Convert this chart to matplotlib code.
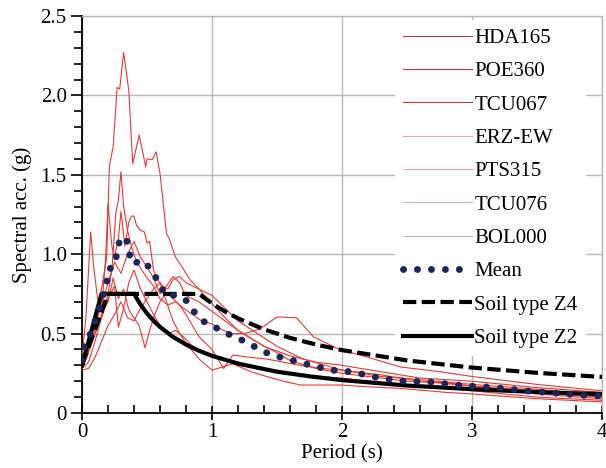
import numpy as np
import matplotlib
matplotlib.use("Agg")
from matplotlib import pyplot as plt
from matplotlib.ticker import MultipleLocator, FixedFormatter, FixedLocator

plt.rcParams['font.family'] = ['Liberation Serif', 'DejaVu Serif']

# record spectra (period s, spectral acc. g)
hda165_t = [0.0, 0.05, 0.10, 0.15, 0.19, 0.21, 0.24, 0.27, 0.29, 0.32, 0.36, 0.39, 0.44, 0.49, 0.50, 0.54, 0.57, 0.60, 0.65, 0.67, 0.72, 0.77, 0.83, 0.90, 1.0, 1.1, 1.2, 1.3, 1.4, 1.6, 1.8, 2.0, 2.3, 2.6, 3.0, 3.5, 4.0]
hda165_a = [0.32, 0.45, 0.62, 0.78, 0.98, 1.55, 1.68, 2.05, 2.04, 2.27, 2.03, 1.57, 1.75, 1.55, 1.60, 1.595, 1.645, 1.51, 1.13, 1.10, 0.98, 0.92, 0.84, 0.78, 0.69, 0.60, 0.52, 0.47, 0.42, 0.36, 0.32, 0.30, 0.26, 0.22, 0.20, 0.16, 0.13]

poe360_t = [0.0, 0.04, 0.08, 0.12, 0.16, 0.20, 0.23, 0.26, 0.28, 0.30, 0.32, 0.35, 0.38, 0.42, 0.46, 0.50, 0.55, 0.60, 0.66, 0.72, 0.78, 0.85, 0.92, 1.0, 1.09, 1.16, 1.25, 1.37, 1.5, 1.65, 1.78, 1.98, 2.14, 2.45, 2.75, 3.0, 3.5, 4.0]
poe360_a = [0.30, 0.36, 0.48, 0.55, 0.62, 0.75, 0.90, 1.26, 1.34, 1.52, 1.30, 1.15, 1.05, 0.95, 0.90, 0.85, 0.80, 0.72, 0.68, 0.70, 0.66, 0.62, 0.58, 0.56, 0.52, 0.50, 0.50, 0.53, 0.605, 0.60, 0.48, 0.40, 0.365, 0.29, 0.26, 0.23, 0.18, 0.14]

tcu067_t = [0.0, 0.03, 0.067, 0.09, 0.12, 0.15, 0.18, 0.20, 0.23, 0.25, 0.28, 0.30, 0.33, 0.36, 0.38, 0.40, 0.42, 0.45, 0.48, 0.50, 0.52, 0.55, 0.58, 0.62, 0.66, 0.70, 0.75, 0.80, 0.85, 0.90, 1.0, 1.1, 1.2, 1.35, 1.5, 1.7, 2.0, 2.3, 2.6, 3.0, 3.5, 4.0]
tcu067_a = [0.35, 0.60, 1.14, 0.92, 0.72, 0.65, 0.95, 1.32, 1.05, 0.98, 1.10, 1.27, 1.05, 1.20, 1.24, 1.24, 1.18, 1.15, 1.14, 1.07, 1.08, 0.90, 0.84, 0.80, 0.78, 0.84, 0.86, 0.82, 0.80, 0.78, 0.74, 0.66, 0.58, 0.50, 0.42, 0.34, 0.27, 0.23, 0.21, 0.18, 0.15, 0.11]

erz_t = [0.0, 0.05, 0.1, 0.15, 0.2, 0.25, 0.3, 0.35, 0.4, 0.45, 0.5, 0.55, 0.6, 0.65, 0.7, 0.75, 0.8, 0.9, 1.0, 1.1, 1.2, 1.3, 1.4, 1.5, 1.6, 1.8, 2.0, 2.2, 2.5, 2.8, 3.0, 3.3, 3.6, 4.0]
erz_a = [0.33, 0.42, 0.55, 0.68, 0.82, 0.95, 0.88, 1.0, 1.08, 0.98, 0.92, 0.85, 0.75, 0.80, 0.86, 0.82, 0.74, 0.70, 0.64, 0.58, 0.52, 0.47, 0.42, 0.38, 0.33, 0.28, 0.25, 0.23, 0.20, 0.19, 0.17, 0.15, 0.12, 0.10]

pts315_t = [0.0, 0.05, 0.1, 0.15, 0.2, 0.24, 0.28, 0.32, 0.36, 0.40, 0.44, 0.485, 0.52, 0.56, 0.6, 0.65, 0.7, 0.75, 0.8, 0.85, 0.9, 1.0, 1.06, 1.09, 1.16, 1.3, 1.42, 1.55, 1.68, 1.85, 2.0, 2.3, 2.6, 3.0, 3.5, 4.0]
pts315_a = [0.30, 0.38, 0.50, 0.62, 0.70, 0.85, 0.72, 0.78, 0.65, 0.60, 0.55, 0.41, 0.52, 0.62, 0.70, 0.76, 0.72, 0.68, 0.62, 0.55, 0.48, 0.40, 0.32, 0.28, 0.365, 0.35, 0.34, 0.32, 0.30, 0.28, 0.27, 0.24, 0.20, 0.17, 0.12, 0.09]

tcu076_t = [0.0, 0.05, 0.1, 0.15, 0.2, 0.25, 0.28, 0.32, 0.36, 0.40, 0.45, 0.5, 0.55, 0.6, 0.66, 0.72, 0.78, 0.85, 0.9, 1.0, 1.1, 1.2, 1.3, 1.4, 1.5, 1.6, 1.8, 2.0, 2.2, 2.5, 2.8, 3.0, 3.5, 4.0]
tcu076_a = [0.28, 0.32, 0.45, 0.60, 0.72, 0.80, 0.54, 0.66, 0.82, 0.90, 0.78, 0.70, 0.62, 0.55, 0.50, 0.52, 0.48, 0.42, 0.40, 0.365, 0.34, 0.32, 0.30, 0.28, 0.26, 0.25, 0.23, 0.22, 0.20, 0.18, 0.16, 0.14, 0.10, 0.08]

bol000_t = [0.0, 0.05, 0.1, 0.15, 0.2, 0.25, 0.3, 0.35, 0.4, 0.45, 0.5, 0.55, 0.6, 0.65, 0.7, 0.75, 0.8, 0.9, 1.0, 1.16, 1.3, 1.42, 1.55, 1.68, 1.85, 2.0, 2.2, 2.45, 2.8, 3.0, 3.5, 4.0]
bol000_a = [0.27, 0.28, 0.35, 0.45, 0.55, 0.62, 0.70, 0.60, 0.58, 0.66, 0.72, 0.78, 0.82, 0.70, 0.58, 0.50, 0.44, 0.34, 0.27, 0.31, 0.26, 0.23, 0.20, 0.176, 0.176, 0.176, 0.165, 0.155, 0.13, 0.12, 0.09, 0.07]

mean_t = [0.0, 0.015, 0.06, 0.12, 0.19, 0.20, 0.25, 0.27, 0.29, 0.34, 0.36, 0.385, 0.47, 0.54, 0.59, 0.64, 0.73, 0.80, 0.86, 0.94, 1.03, 1.125, 1.22, 1.32, 1.41, 1.515, 1.62, 1.715, 1.82, 1.92, 2.03, 2.13, 2.24, 2.34, 2.45, 2.55, 2.66, 2.77, 2.87, 2.97, 3.08, 3.19, 3.29, 3.4, 3.5, 3.6, 3.72, 3.82, 3.93, 4.0]
mean_a = [0.33, 0.417, 0.49, 0.62, 0.82, 0.90, 0.93, 1.01, 1.09, 1.105, 1.02, 0.94, 0.96, 0.895, 0.82, 0.745, 0.74, 0.71, 0.64, 0.575, 0.537, 0.497, 0.463, 0.421, 0.382, 0.354, 0.331, 0.31, 0.289, 0.27, 0.263, 0.25, 0.228, 0.215, 0.202, 0.199, 0.197, 0.187, 0.176, 0.17, 0.166, 0.159, 0.151, 0.14, 0.134, 0.128, 0.12, 0.113, 0.109, 0.107]

z4_t = [0.0, 0.2, 0.9, 1.0, 1.1, 1.2, 1.4, 1.6, 1.8, 2.0, 2.5, 3.0, 3.5, 4.0]
z4_a = [0.30, 0.75, 0.75, 0.690, 0.639, 0.596, 0.527, 0.473, 0.431, 0.396, 0.331, 0.286, 0.253, 0.227]

z2_t = [0.0, 0.15, 0.40, 0.45, 0.5, 0.55, 0.6, 0.7, 0.8, 0.9, 1.0, 1.2, 1.5, 1.75, 2.0, 2.5, 3.0, 3.5, 4.0]
z2_a = [0.30, 0.75, 0.75, 0.683, 0.627, 0.581, 0.542, 0.479, 0.431, 0.392, 0.360, 0.311, 0.260, 0.231, 0.207, 0.173, 0.150, 0.132, 0.119]

records = [("HDA165", hda165_t, hda165_a), ("POE360", poe360_t, poe360_a),
           ("TCU067", tcu067_t, tcu067_a), ("ERZ-EW", erz_t, erz_a),
           ("PTS315", pts315_t, pts315_a), ("TCU076", tcu076_t, tcu076_a),
           ("BOL000", bol000_t, bol000_a)]
handle_colors = ['#b03a3a', '#b03a3a', '#b03a3a', '#e3aaaa', '#e3aaaa', '#e3aaaa', '#e3aaaa']

fig = plt.figure(figsize=(6.06, 4.68), dpi=100)
ax = fig.add_axes([82/606, 1 - 413/468, 520/606, 397/468])

for name, t, a in records:
    ax.plot(t, a, color='#e53935', lw=0.8, label=name, zorder=3)

ax.plot(mean_t, mean_a, color='#1b2659', lw=5, linestyle=(0, (0.01, 2.0)),
        dash_capstyle='round', label='Mean', zorder=5)
ax.plot(z4_t, z4_a, color='black', lw=3, linestyle=(0, (3.2, 1.3)), label='Soil type Z4', zorder=4)
ax.plot(z2_t, z2_a, color='black', lw=3, label='Soil type Z2', zorder=4)

ax.set_xlim(0, 4)
ax.set_ylim(0, 2.5)
ax.xaxis.set_major_locator(MultipleLocator(1))
ax.xaxis.set_minor_locator(MultipleLocator(0.2))
ax.yaxis.set_major_locator(FixedLocator([0, 0.5, 1.0, 1.5, 2.0, 2.5]))
ax.yaxis.set_major_formatter(FixedFormatter(['0', '0.5', '1.0', '1.5', '2.0', '2.5']))
ax.yaxis.set_minor_locator(MultipleLocator(0.1))
ax.grid(True, which='major', color='#b8b8b8', lw=1)
ax.set_axisbelow(True)

ax.tick_params(axis='x', which='major', direction='inout', length=10, width=1.2, labelsize=15, pad=2)
ax.tick_params(axis='x', which='minor', direction='in', length=6, width=1.2)
ax.tick_params(axis='y', which='major', direction='out', length=8, width=1.2, labelsize=15, pad=3)
ax.tick_params(axis='y', which='minor', direction='out', length=6, width=1.2)

for s in ['top', 'right']:
    ax.spines[s].set_color('#b8b8b8')
    ax.spines[s].set_linewidth(1)
for s in ['left', 'bottom']:
    ax.spines[s].set_linewidth(1.3)

ax.set_xlabel('Period (s)', fontsize=15, labelpad=2)
ax.set_ylabel('Spectral acc. (g)', fontsize=15, labelpad=6)

leg = ax.legend(loc='upper left', bbox_to_anchor=(0.602, 0.99), fontsize=15,
                frameon=True, fancybox=False, facecolor='white', edgecolor='none',
                framealpha=1, handlelength=3.3, handletextpad=0.1, labelspacing=0.66,
                borderpad=0.4, borderaxespad=0)
leg.set_zorder(6)
for h, c in zip(leg.legend_handles, handle_colors):
    h.set_color(c)

fig.savefig('out.png', dpi=100)
